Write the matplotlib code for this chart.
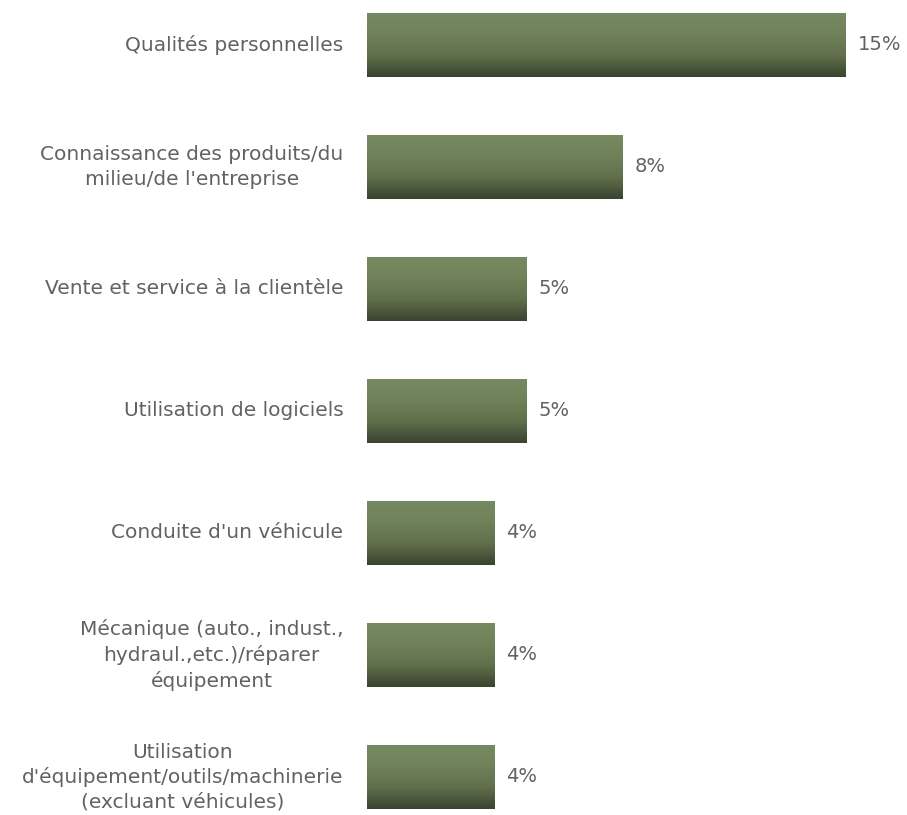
import numpy as np
import matplotlib.pyplot as plt
from matplotlib.colors import LinearSegmentedColormap

plt.rcParams['font.family'] = ['DejaVu Sans']

# Compétences les plus recherchées (% des mentions)
categories = [
    "Qualités personnelles",
    "Connaissance des produits/du\nmilieu/de l'entreprise",
    "Vente et service à la clientèle",
    "Utilisation de logiciels",
    "Conduite d'un véhicule",
    "Mécanique (auto., indust.,\nhydraul.,etc.)/réparer\néquipement",
    "Utilisation\nd'équipement/outils/machinerie\n(excluant véhicules)",
]
values = [15, 8, 5, 5, 4, 4, 4]
value_labels = ["15%", "8%", "5%", "5%", "4%", "4%", "4%"]

text_color = '#626262'
bar_cmap = LinearSegmentedColormap.from_list(
    'vert', ['#768a61', '#708259', '#606f4c', '#3a432f'])

fig = plt.figure(figsize=(9.07, 8.15), dpi=100)
ax = fig.add_axes([367 / 907, 0, 540 / 907, 1])

y = np.arange(len(categories))
bars = ax.barh(y, values, height=0.53, color='none', edgecolor='none')

# dégradé vertical dans chaque barre
grad = np.linspace(0, 1, 256).reshape(-1, 1)
for bar in bars:
    x0, y0 = bar.get_x(), bar.get_y()
    w, h = bar.get_width(), bar.get_height()
    im = ax.imshow(grad, cmap=bar_cmap, aspect='auto',
                   extent=(x0, x0 + w, y0 + h, y0), origin='upper', zorder=2)
    im.set_clip_path(bar)

for yi, v, lab in zip(y, values, value_labels):
    ax.text(v + 0.37, yi, lab, va='center', ha='left',
            fontsize=14, color=text_color)

ax.set_xlim(0, 15 * 540 / 479)
ax.set_ylim(6 + 38 / 122, -45 / 122)
ax.set_yticks(y)
ax.set_yticklabels(categories, fontsize=14.5, color=text_color,
                   multialignment='center', linespacing=1.35, va='center')
ax.tick_params(axis='y', length=0, pad=17)
ax.set_xticks([])
for s in ax.spines.values():
    s.set_visible(False)

fig.savefig('out.png', dpi=100)
